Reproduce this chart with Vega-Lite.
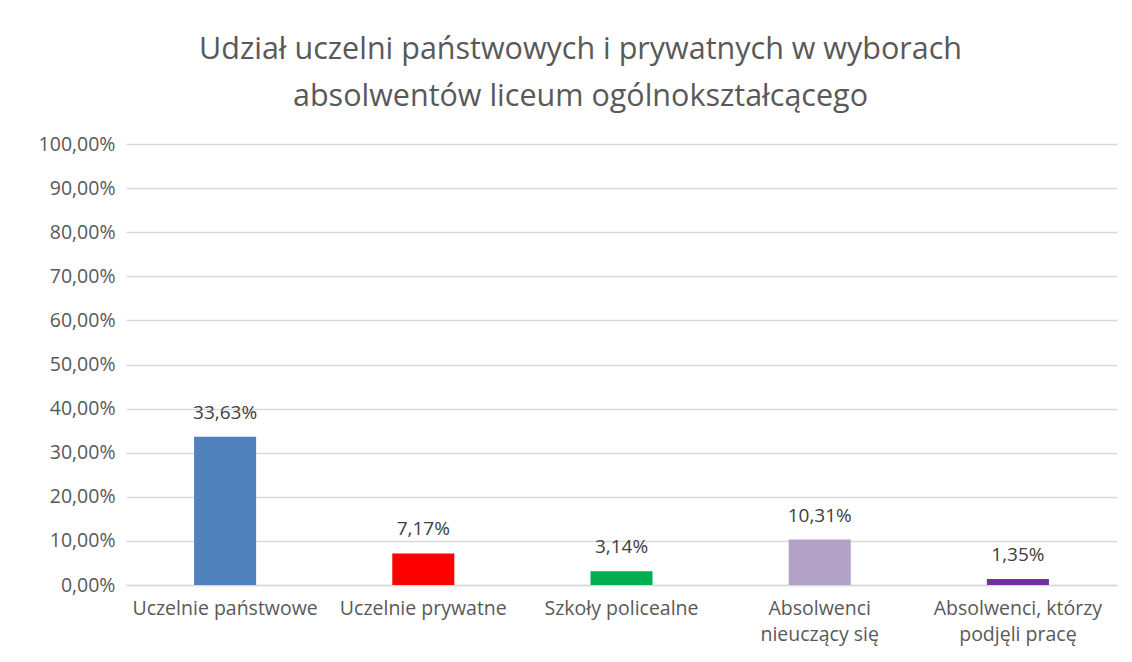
{
  "$schema": "https://vega.github.io/schema/vega-lite/v6.json",
  "autosize": "none",
  "width": 991,
  "height": 441,
  "padding": {"left": 126, "top": 144, "right": 15, "bottom": 77},
  "background": "white",
  "title": {
    "text": ["Udział uczelni państwowych i prywatnych w wyborach", "absolwentów liceum ogólnokształcącego"],
    "anchor": "middle",
    "frame": "group",
    "dx": -41,
    "offset": 22,
    "font": "Open Sans",
    "fontSize": 30.5,
    "fontWeight": "normal",
    "color": "#595959",
    "lineHeight": 47
  },
  "config": {
    "locale": {"number": {"decimal": ",", "thousands": " ", "grouping": [3], "currency": ["", " zł"]}},
    "view": {"stroke": null},
    "axis": {"labelFont": "Open Sans", "labelFontSize": 19.5, "labelColor": "#595959", "title": null, "labelLimit": 400}
  },
  "data": {
    "values": [
      {"kategoria": "Uczelnie państwowe", "udzial": 0.3363},
      {"kategoria": "Uczelnie prywatne", "udzial": 0.0717},
      {"kategoria": "Szkoły policealne", "udzial": 0.0314},
      {"kategoria": "Absolwenci nieuczący się", "udzial": 0.1031},
      {"kategoria": "Absolwenci, którzy podjęli pracę", "udzial": 0.0135}
    ]
  },
  "encoding": {
    "x": {
      "field": "kategoria",
      "type": "nominal",
      "sort": null,
      "scale": {"paddingInner": 0.687, "paddingOuter": 0.3435},
      "axis": {
        "labelAngle": 0,
        "domainColor": "#d9d9d9",
        "domainWidth": 1.5,
        "ticks": false,
        "labelPadding": 14,
        "labelLineHeight": 26,
        "labelBaseline": "top",
        "labelOverlap": false,
        "labelExpr": "datum.label == 'Absolwenci nieuczący się' ? ['Absolwenci', 'nieuczący się'] : datum.label == 'Absolwenci, którzy podjęli pracę' ? ['Absolwenci, którzy', 'podjęli pracę'] : datum.label"
      }
    },
    "y": {
      "field": "udzial",
      "type": "quantitative",
      "scale": {"domain": [0, 1]},
      "axis": {
        "values": [0, 0.1, 0.2, 0.3, 0.4, 0.5, 0.6, 0.7, 0.8, 0.9, 1],
        "format": ".2%",
        "domain": false,
        "ticks": false,
        "labelPadding": 11,
        "gridColor": "#d9d9d9",
        "gridWidth": 1.5
      }
    }
  },
  "layer": [
    {
      "mark": {"type": "bar"},
      "encoding": {
        "color": {
          "field": "kategoria",
          "type": "nominal",
          "legend": null,
          "scale": {
            "domain": ["Uczelnie państwowe", "Uczelnie prywatne", "Szkoły policealne", "Absolwenci nieuczący się", "Absolwenci, którzy podjęli pracę"],
            "range": ["#4f81bd", "#ff0000", "#00b050", "#b3a2c7", "#7030a0"]
          }
        }
      }
    },
    {
      "mark": {"type": "text", "font": "Open Sans", "fontSize": 19, "color": "#404040", "baseline": "alphabetic", "dy": -18},
      "encoding": {
        "text": {"field": "udzial", "type": "quantitative", "format": ".2%"}
      }
    }
  ]
}
